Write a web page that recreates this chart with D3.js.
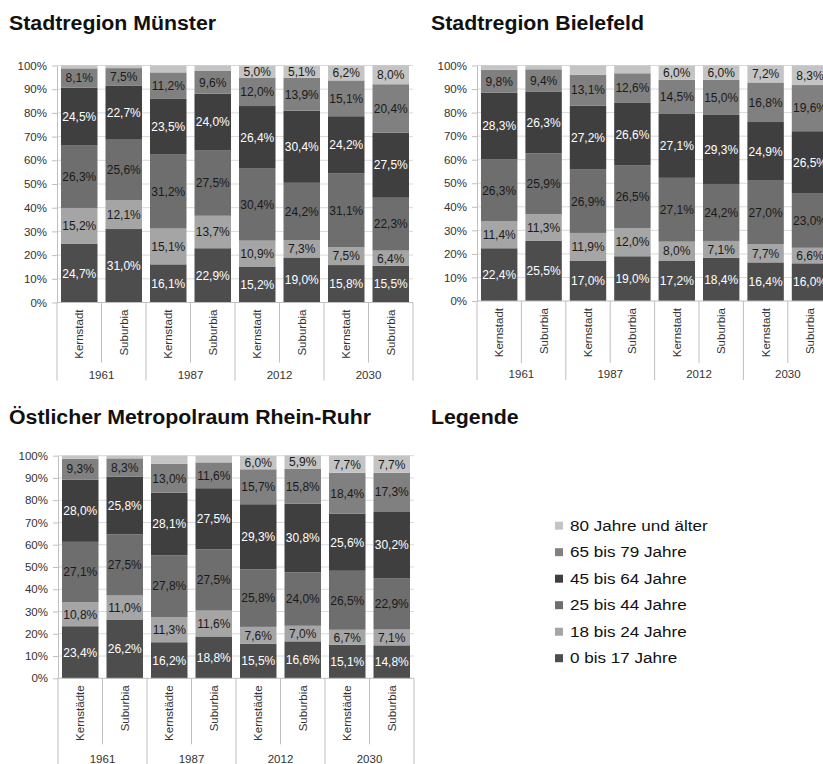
<!DOCTYPE html>
<html>
<head>
<meta charset="utf-8">
<script src="https://cdn.jsdelivr.net/npm/d3@7"></script>
<style>
  body { margin: 0; background: #fff; }
  svg { display: block; font-family: "Liberation Sans", Arial, sans-serif; }
</style>
</head>
<body>
<svg id="chart" width="823" height="764"></svg>
<script>
// Age groups, bottom to top of each stacked bar
const ageGroups = ["0 bis 17 Jahre", "18 bis 24 Jahre", "25 bis 44 Jahre", "45 bis 64 Jahre", "65 bis 79 Jahre", "80 Jahre und älter"];
const ageColors = ["#4d4d4d", "#a5a5a5", "#6e6e6e", "#3f3f3f", "#808080", "#c4c4c4"];
const ageLabelColors = ["#ffffff", "#1a1a1a", "#1a1a1a", "#ffffff", "#1a1a1a", "#1a1a1a"];

const years = ["1961", "1987", "2012", "2030"];
const areaTypes = ["Kernstadt", "Suburbia"];
const areaTypesRuhr = ["Kernstädte", "Suburbia"];
const yTicks = [0, 10, 20, 30, 40, 50, 60, 70, 80, 90, 100];

// Columns: 1961 Kernstadt, 1961 Suburbia, 1987 K, 1987 S, 2012 K, 2012 S, 2030 K, 2030 S
const muenster0to17   = [24.7, 31.0, 16.1, 22.9, 15.2, 19.0, 15.8, 15.5];
const muenster18to24  = [15.2, 12.1, 15.1, 13.7, 10.9, 7.3, 7.5, 6.4];
const muenster25to44  = [26.3, 25.6, 31.2, 27.5, 30.4, 24.2, 31.1, 22.3];
const muenster45to64  = [24.5, 22.7, 23.5, 24.0, 26.4, 30.4, 24.2, 27.5];
const muenster65to79  = [8.1, 7.5, 11.2, 9.6, 12.0, 13.9, 15.1, 20.4];
const muenster80plus  = [1.2, 1.1, 2.9, 2.3, 5.0, 5.1, 6.2, 8.0];

const bielefeld0to17  = [22.4, 25.5, 17.0, 19.0, 17.2, 18.4, 16.4, 16.0];
const bielefeld18to24 = [11.4, 11.3, 11.9, 12.0, 8.0, 7.1, 7.7, 6.6];
const bielefeld25to44 = [26.3, 25.9, 26.9, 26.5, 27.1, 24.2, 27.0, 23.0];
const bielefeld45to64 = [28.3, 26.3, 27.2, 26.6, 27.1, 29.3, 24.9, 26.5];
const bielefeld65to79 = [9.8, 9.4, 13.1, 12.6, 14.5, 15.0, 16.8, 19.6];
const bielefeld80plus = [1.8, 1.6, 3.9, 3.3, 6.0, 6.0, 7.2, 8.3];

const ruhr0to17       = [23.4, 26.2, 16.2, 18.8, 15.5, 16.6, 15.1, 14.8];
const ruhr18to24      = [10.8, 11.0, 11.3, 11.6, 7.6, 7.0, 6.7, 7.1];
const ruhr25to44      = [27.1, 27.5, 27.8, 27.5, 25.8, 24.0, 26.5, 22.9];
const ruhr45to64      = [28.0, 25.8, 28.1, 27.5, 29.3, 30.8, 25.6, 30.2];
const ruhr65to79      = [9.3, 8.3, 13.0, 11.6, 15.7, 15.8, 18.4, 17.3];
const ruhr80plus      = [1.4, 1.2, 3.6, 3.0, 6.0, 5.9, 7.7, 7.7];

const svg = d3.select("#chart");
const fmtPct = v => d3.format(".1f")(v).replace(".", ",") + "%";

// Stretch a text element horizontally by a factor (wide sans look of the headings)
function stretch(sel, factor) {
  sel.each(function () {
    const w = this.getComputedTextLength();
    d3.select(this).attr("textLength", w * factor).attr("lengthAdjust", "spacingAndGlyphs");
  });
}

function drawPanel(cfg) {
  const cols = [];
  years.forEach(yr => cfg.areas.forEach(a => cols.push(yr + "|" + a)));

  const rows = cols.map((c, i) => {
    const r = { key: c };
    ageGroups.forEach((g, k) => { r[g] = cfg.series[k][i]; });
    return r;
  });

  const xEnd = cfg.x0 + cols.length * cfg.step;
  const x = d3.scaleBand().domain(cols).range([cfg.x0, xEnd]).paddingInner(0.18).paddingOuter(0.09);
  const y = d3.scaleLinear().domain([0, 100]).range([cfg.yBot, cfg.yTop]);

  const g = svg.append("g");

  // horizontal gridlines
  g.append("g").selectAll("line").data(yTicks.filter(t => t > 0)).join("line")
    .attr("x1", cfg.x0).attr("x2", xEnd)
    .attr("y1", d => y(d)).attr("y2", d => y(d))
    .attr("stroke", "#d9d9d9").attr("stroke-width", 1);

  // stacked bars
  const stacked = d3.stack().keys(ageGroups)(rows);
  const layers = g.append("g").selectAll("g").data(stacked).join("g")
    .attr("fill", (d, i) => ageColors[i]);
  layers.selectAll("rect").data(d => d).join("rect")
    .attr("x", d => x(d.data.key))
    .attr("width", x.bandwidth())
    .attr("y", d => y(d[1]))
    .attr("height", d => y(d[0]) - y(d[1]));

  // value labels
  const lbl = g.append("g").attr("font-size", "12px").attr("text-anchor", "middle");
  stacked.forEach((layer, li) => {
    lbl.append("g").attr("fill", ageLabelColors[li])
      .selectAll("text").data(layer.filter(d => d[1] - d[0] >= 4)).join("text")
      .attr("x", d => x(d.data.key) + x.bandwidth() / 2)
      .attr("y", d => y((d[0] + d[1]) / 2))
      .attr("dy", "0.36em")
      .text(d => fmtPct(d[1] - d[0]));
  });

  // y axis
  const yAxis = g.append("g").attr("transform", `translate(${cfg.x0},0)`)
    .call(d3.axisLeft(y).tickValues(yTicks).tickFormat(d => d + "%").tickSize(5).tickSizeOuter(0).tickPadding(5));
  yAxis.selectAll("path, line").attr("stroke", "#bfbfbf");
  yAxis.selectAll("text").attr("fill", "#333").attr("font-size", "11.5px")
    .attr("font-family", "'Liberation Sans', Arial, sans-serif");

  // x baseline
  g.append("line").attr("x1", cfg.x0).attr("x2", xEnd)
    .attr("y1", cfg.yBot).attr("y2", cfg.yBot).attr("stroke", "#bfbfbf");

  // category separators: short ones between area types, long ones between years
  const bounds = d3.range(cols.length + 1).map(i => ({ i, xx: cfg.x0 + i * cfg.step }));
  g.append("g").selectAll("line").data(bounds).join("line")
    .attr("x1", d => d.xx).attr("x2", d => d.xx)
    .attr("y1", cfg.yBot)
    .attr("y2", d => cfg.yBot + (d.i % 2 === 0 ? cfg.outerLen : cfg.innerLen))
    .attr("stroke", "#bfbfbf");

  // rotated area-type labels
  g.append("g").selectAll("text").data(cols).join("text")
    .attr("transform", d => `translate(${x(d) + x.bandwidth() / 2},${cfg.yBot + 7}) rotate(-90)`)
    .attr("text-anchor", "end")
    .attr("dy", "0.35em")
    .attr("font-size", "11.5px")
    .attr("fill", "#333")
    .text(d => d.split("|")[1]);

  // year labels
  g.append("g").selectAll("text").data(years).join("text")
    .attr("x", (d, i) => cfg.x0 + (i * 2 + 1) * cfg.step)
    .attr("y", cfg.yBot + cfg.yearOffset)
    .attr("text-anchor", "middle")
    .attr("font-size", "11.5px")
    .attr("fill", "#333")
    .text(d => d);

  // panel title
  svg.append("text")
    .attr("x", cfg.titleX).attr("y", cfg.titleY)
    .attr("font-size", "20px").attr("font-weight", "bold").attr("fill", "#111")
    .text(cfg.title)
    .call(stretch, 1.065);
}

drawPanel({
  title: "Stadtregion Münster", titleX: 9, titleY: 30,
  areas: areaTypes,
  series: [muenster0to17, muenster18to24, muenster25to44, muenster45to64, muenster65to79, muenster80plus],
  x0: 57, step: 44.5, yTop: 65.5, yBot: 302.5,
  innerLen: 60, outerLen: 78, yearOffset: 76
});

drawPanel({
  title: "Stadtregion Bielefeld", titleX: 431, titleY: 30,
  areas: areaTypes,
  series: [bielefeld0to17, bielefeld18to24, bielefeld25to44, bielefeld45to64, bielefeld65to79, bielefeld80plus],
  x0: 477, step: 44.4, yTop: 65.5, yBot: 301,
  innerLen: 62, outerLen: 79, yearOffset: 76.5
});

drawPanel({
  title: "Östlicher Metropolraum Rhein-Ruhr", titleX: 9, titleY: 424,
  areas: areaTypesRuhr,
  series: [ruhr0to17, ruhr18to24, ruhr25to44, ruhr45to64, ruhr65to79, ruhr80plus],
  x0: 58, step: 44.5, yTop: 455.7, yBot: 678.3,
  innerLen: 66, outerLen: 90, yearOffset: 85
});

// Legend
svg.append("text")
  .attr("x", 431).attr("y", 424)
  .attr("font-size", "20px").attr("font-weight", "bold").attr("fill", "#111")
  .text("Legende")
  .call(stretch, 1.065);

const legendOrder = d3.range(ageGroups.length).reverse();
const legend = svg.append("g").selectAll("g").data(legendOrder).join("g")
  .attr("transform", (d, i) => `translate(555,${525.7 + i * 26.5})`);
legend.append("rect")
  .attr("x", 0).attr("y", -4).attr("width", 8).attr("height", 8)
  .attr("fill", d => ageColors[d]);
legend.append("text")
  .attr("x", 15).attr("y", 0).attr("dy", "0.36em")
  .attr("font-size", "14px").attr("fill", "#111")
  .text(d => ageGroups[d])
  .call(stretch, 1.22);
</script>
</body>
</html>
